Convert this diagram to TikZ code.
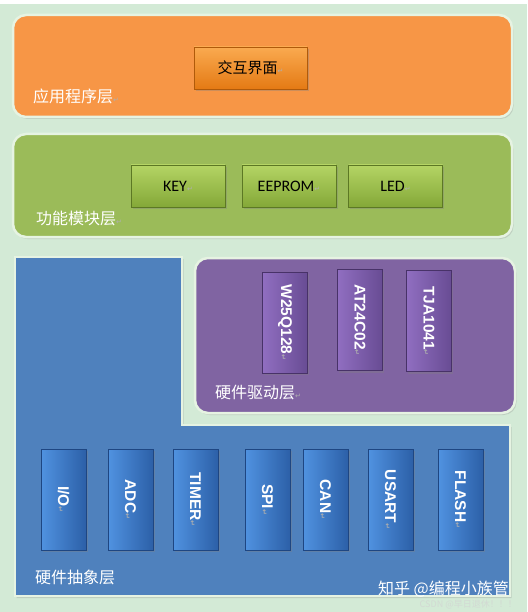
\documentclass[tikz,border=0pt]{standalone}
\usepackage{fontspec}
\setmainfont{Liberation Sans}
\newfontfamily\cjk{Noto Sans CJK SC}
\newfontfamily\calib{Carlito}
\newfontfamily\dvs{DejaVu Sans}
\usetikzlibrary{shadows}
\definecolor{bggreen}{RGB}{211,234,214}
\definecolor{glow}{RGB}{230,243,226}
\definecolor{orangeL}{RGB}{247,150,70}
\definecolor{greenL}{RGB}{155,187,89}
\definecolor{blueL}{RGB}{79,129,189}
\definecolor{purpleL}{RGB}{128,100,162}
\definecolor{orangeB}{RGB}{176,90,10}
\definecolor{greenB}{RGB}{92,120,36}
\definecolor{blueB}{RGB}{30,70,130}
\definecolor{purpleB}{RGB}{72,50,104}
\definecolor{retmark}{RGB}{175,175,175}
\newcommand{\rmk}{{\dvs\fontsize{7}{7}\selectfont\color{retmark}↵}}
\tikzset{
  layer/.style={rounded corners=13pt, draw=glow, line width=2.5pt,
    drop shadow={shadow xshift=1.5pt, shadow yshift=-2pt, opacity=0.25}},
  layerlabel/.style={anchor=base west, text=white, font=\cjk\fontsize{16}{16}\selectfont, inner sep=0pt},
  btn/.style={rectangle, draw=#1, line width=0.6pt,
    drop shadow={shadow xshift=1.5pt, shadow yshift=-2pt, opacity=0.35}},
  hbtn/.style={btn=#1, minimum width=94pt, minimum height=42pt},
  vbtn/.style={btn=#1, rotate=-90, minimum width=101pt, minimum height=45pt,
    font=\bfseries\fontsize{15.5}{15.5}\selectfont, text=white, inner sep=0pt},
}
\begin{document}
\begin{tikzpicture}[x=1pt,y=-1pt]
\useasboundingbox (0,0) rectangle (527,612);
\fill[bggreen] (0,4) rectangle (527,612);
% application layer
\fill[orangeL, layer] (13,15) rectangle (512,117);
\node[layerlabel] (applbl) at (33,103) {应用程序层\rmk};
\node[btn=orangeB, minimum width=113pt, minimum height=42pt,
  top color={rgb,255:red,250;green,170;blue,80}, bottom color={rgb,255:red,228;green,122;blue,20},
  font=\cjk\fontsize{15}{15}\selectfont] (ui) at (250.5,68) {交互界面\rmk};
% function layer
\fill[greenL, layer] (13,134) rectangle (512,237);
\node[layerlabel] (funlbl) at (36,224) {功能模块层\rmk};
\tikzset{gbtn/.style={hbtn=greenB,
  top color={rgb,255:red,180;green,212;blue,100}, bottom color={rgb,255:red,132;green,168;blue,56},
  font=\calib\fontsize{16}{16}\selectfont}}
\node[gbtn] (key) at (178,186) {KEY\rmk};
\node[gbtn] (eeprom) at (289,186) {EEPROM\rmk};
\node[gbtn] (led) at (395.5,186) {LED\rmk};
% hardware abstraction layer (L shape)
\fill[blueL, draw=glow, line width=2pt,
  drop shadow={shadow xshift=1.5pt, shadow yshift=-2pt, opacity=0.25}]
  (15,257) -- (182,257) -- (182,425) -- (510,425) -- (510,596) -- (15,596) -- cycle;
\node[layerlabel] (hallbl) at (35,583) {硬件抽象层};
\tikzset{bbtn/.style={vbtn=blueB,
  left color={rgb,255:red,80;green,146;blue,224}, right color={rgb,255:red,44;green,96;blue,168}}}
\node[bbtn] (io) at (63.5,499.5) {I/O\rmk};
\node[bbtn] (adc) at (130.5,499.5) {ADC\rmk};
\node[bbtn] (timer) at (195.5,499.5) {TIMER\rmk};
\node[bbtn] (spi) at (267.5,499.5) {SPI\rmk};
\node[bbtn] (can) at (325.5,499.5) {CAN\rmk};
\node[bbtn] (usart) at (390.5,499.5) {USART\rmk};
\node[bbtn] (flash) at (460.5,499.5) {FLASH\rmk};
% hardware driver layer
\fill[purpleL, layer] (195,258) rectangle (515,413);
\node[layerlabel] (drvlbl) at (215,398) {硬件驱动层\rmk};
\tikzset{pbtn/.style={vbtn=purpleB,
  left color={rgb,255:red,144;green,110;blue,192}, right color={rgb,255:red,104;green,76;blue,148}}}
\node[pbtn] (w25) at (285,322.5) {W25Q128\rmk};
\node[pbtn] (at24) at (360,320) {AT24C02\rmk};
\node[pbtn] (tja) at (429,321) {TJA1041\rmk};
% watermarks
\node[anchor=base east, text=white, font=\cjk\fontsize{16}{16}\selectfont, inner sep=0pt] (zh) at (509,594) {知乎 @编程小族管};
\node[anchor=base east, text=gray!35, opacity=0.7, font=\cjk\fontsize{9}{9}\selectfont, inner sep=0pt] (csdn) at (517,607) {CSDN @早日退休！！！};
\end{tikzpicture}
\end{document}
